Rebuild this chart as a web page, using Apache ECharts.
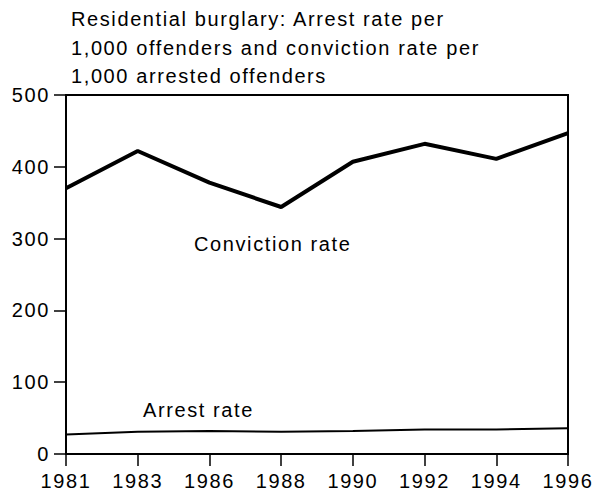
<!DOCTYPE html>
<html>
<head>
<meta charset="utf-8">
<script src="https://cdn.jsdelivr.net/npm/echarts@6/dist/echarts.min.js"></script>
<style>
  html, body { margin: 0; padding: 0; background: #fff; }
  #chart { width: 597px; height: 495px; }
  /* reference type is loosely tracked */
  #chart text { letter-spacing: 1.6px; }
</style>
</head>
<body>
<div id="chart"></div>
<script>
const years = ['1981', '1983', '1986', '1988', '1990', '1992', '1994', '1996'];
const convictionRate = [370, 422, 378, 344, 407, 432, 411, 447];
const arrestRate = [27, 31, 32, 31, 32, 34, 34, 36];

const font = 'Liberation Sans, Arial, Helvetica, sans-serif';
const chart = echarts.init(document.getElementById('chart'), null, { renderer: 'svg' });

chart.setOption({
    animation: false,
    title: {
        text: 'Residential burglary: Arrest rate per\n1,000 offenders and conviction rate per\n1,000 arrested offenders',
        left: 71,
        top: 5,
        padding: 0,
        textStyle: { fontFamily: font, fontSize: 20, fontWeight: 'normal', color: '#000', lineHeight: 28.5 }
    },
    grid: {
        left: 66, right: 29, top: 95, bottom: 41,
        show: true, borderColor: '#000', borderWidth: 2
    },
    xAxis: {
        type: 'category',
        data: years,
        boundaryGap: false,
        axisLine: { lineStyle: { color: '#000', width: 2 } },
        axisTick: { alignWithLabel: true, length: 12, lineStyle: { color: '#000', width: 1.5 } },
        axisLabel: { interval: 0, color: '#000', fontFamily: font, fontSize: 20, margin: 17 },
        splitLine: { show: false }
    },
    yAxis: {
        type: 'value',
        min: 0, max: 500, interval: 100,
        axisLine: { show: true, lineStyle: { color: '#000', width: 2 } },
        axisTick: { show: true, length: 12, lineStyle: { color: '#000', width: 1.5 } },
        axisLabel: { color: '#000', fontFamily: font, fontSize: 20, margin: 16 },
        splitLine: { show: false }
    },
    graphic: [
        { type: 'text', x: 194, y: 244, style: { text: 'Conviction rate', font: '20px ' + font, fill: '#000', verticalAlign: 'middle' } },
        { type: 'text', x: 143, y: 410, style: { text: 'Arrest rate', font: '20px ' + font, fill: '#000', verticalAlign: 'middle' } }
    ],
    series: [
        {
            name: 'Conviction rate', type: 'line', data: convictionRate,
            symbol: 'none', lineStyle: { color: '#000', width: 4 }
        },
        {
            name: 'Arrest rate', type: 'line', data: arrestRate,
            symbol: 'none', lineStyle: { color: '#000', width: 2 }
        }
    ]
});
</script>
</body>
</html>
